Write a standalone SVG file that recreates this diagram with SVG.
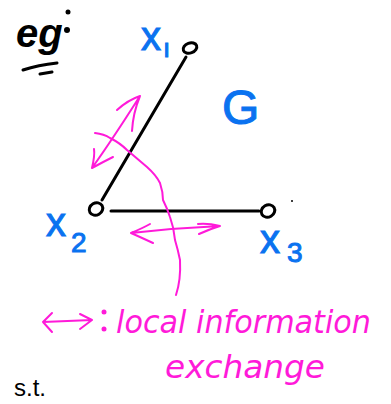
<svg xmlns="http://www.w3.org/2000/svg" width="391" height="404" viewBox="0 0 391 404">
<style>
.ink{fill:none;stroke:#000;stroke-width:3;stroke-linecap:round;stroke-linejoin:round}
.node{fill:none;stroke:#000;stroke-width:3}
.pk{fill:none;stroke:#ff1ad9;stroke-width:2;stroke-linecap:round;stroke-linejoin:round}
.blue{fill:#0a72f0;stroke:#0a72f0;stroke-width:1;font-family:"Liberation Sans",Arial,sans-serif}
.mag{fill:#ff1ad9;font-family:"DejaVu Sans",sans-serif;font-style:italic}
.blk{fill:#000;font-family:"Liberation Sans",Arial,sans-serif}
</style>
<rect width="391" height="404" fill="#fff"/>
<g id="title">
<text class="blk" x="16" y="47" font-size="40" font-style="italic" font-weight="bold">eg</text>
<circle cx="68" cy="12" r="2.5" fill="#000"/>
<circle cx="67" cy="30" r="3" fill="#000"/>
<path class="ink" d="M23 70 Q38 65 57 63 M40 74 L52 72"/>
</g>
<g id="connectors">
<path class="ink" d="M186 57 L102 200"/>
<path class="ink" d="M111 211 L259 211"/>
</g>
<g id="x1">
<ellipse class="node" cx="190" cy="48" rx="7" ry="5" transform="rotate(-20 190 48)"/>
<text class="blue" x="141" y="50" font-size="40">x</text>
<text class="blue" x="163" y="57" font-size="26">ı</text>
</g>
<g id="x2">
<ellipse class="node" cx="96" cy="209" rx="7" ry="6" transform="rotate(-30 96 209)"/>
<text class="blue" x="46" y="236" font-size="40">x</text>
<text class="blue" x="71" y="252" font-size="28">2</text>
</g>
<g id="x3">
<ellipse class="node" cx="268" cy="211" rx="7" ry="6" transform="rotate(-30 268 211)"/>
<circle cx="292" cy="201" r="1" fill="#000"/>
<text class="blue" x="260" y="253" font-size="40">x</text>
<text class="blue" x="287" y="262" font-size="28">3</text>
</g>
<g id="G">
<text class="blue" x="222" y="124" font-size="48">G</text>
</g>
<g id="exchange-arrows">
<path class="pk" d="M92 168 Q112 140 140 96 M140 96 Q128 100 117 110 M140 96 Q133 113 132 131 M92 168 Q95 155 94 149 M92 168 Q103 162 113 157"/>
<path class="pk" d="M131 233 Q175 228 220 226 M131 233 Q143 228 150 224 M131 233 Q140 237 153 243 M220 226 Q208 223 198 224 M220 226 Q210 229 199 234"/>
<path class="pk" d="M95 133 Q104 134 110 138 Q120 143 127 150 L147 167 Q156 175 160 183 Q163 192 163 200 Q167 208 170 217 Q174 228 175 240 Q178 250 180 260 Q181 280 176 295"/>
</g>
<g id="legend">
<path class="pk" stroke-width="3" d="M43 322 L92 320 M43 322 L52 313 M43 322 L52 332 M92 320 L80 314 M92 320 L80 329"/>
<circle cx="104" cy="312" r="2.5" fill="#ff1ad9"/>
<circle cx="104" cy="329" r="2.5" fill="#ff1ad9"/>
<text class="mag" x="116" y="333" font-size="32" textLength="255" lengthAdjust="spacingAndGlyphs">local information</text>
<text class="mag" x="165" y="378" font-size="32" textLength="160" lengthAdjust="spacingAndGlyphs">exchange</text>
</g>
<g id="st">
<text class="blk" x="14" y="396" font-size="24">s.t.</text>
</g>
</svg>
